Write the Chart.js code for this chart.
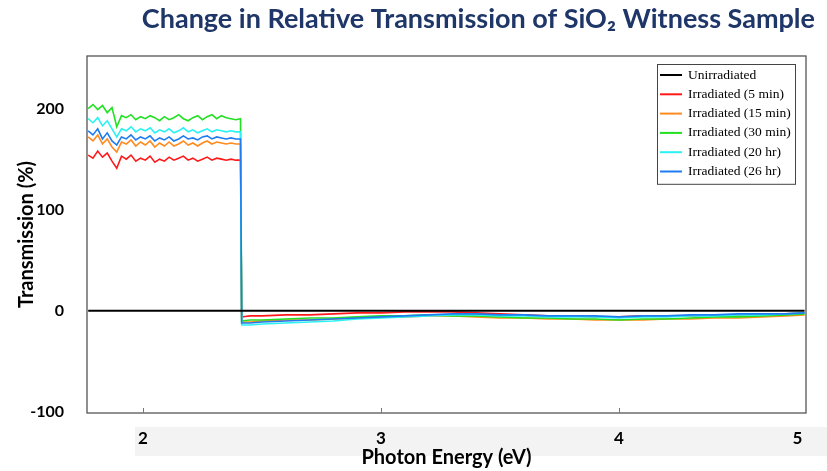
<!DOCTYPE html>
<html lang="en">
<head>
<meta charset="UTF-8">
<title>Change in Relative Transmission of SiO2 Witness Sample</title>
<script src="https://cdn.jsdelivr.net/npm/chart.js"></script>
<style>
  html, body { margin: 0; padding: 0; background: #fff; }
</style>
</head>
<body>
<canvas id="transChart" width="827" height="471"></canvas>
<script>
// photon energy (eV)
const energy = [
  1.77, 1.79, 1.81, 1.83, 1.85, 1.87, 1.89, 1.91, 1.93, 1.95, 1.97, 1.99, 2.01,
  2.03, 2.05, 2.07, 2.09, 2.11, 2.13, 2.15, 2.17, 2.19, 2.21, 2.23, 2.25, 2.27,
  2.29, 2.31, 2.33, 2.35, 2.37, 2.39, 2.41,
  2.415, 2.45, 2.5, 2.6, 2.7, 2.8, 2.9, 3.0, 3.1, 3.2, 3.3, 3.4, 3.5, 3.6, 3.7,
  3.8, 3.9, 4.0, 4.1, 4.2, 4.3, 4.4, 4.5, 4.6, 4.7, 4.78
];

const unirradiated = energy.map(() => 0);

const irr5min = [
  154, 151, 158, 152, 156, 148, 141, 153, 150, 154, 148, 151, 149, 153, 147, 150, 148,
  152, 149, 151, 153, 149, 151, 148, 150, 152, 149, 151, 150, 149, 150, 149, 149,
  -6, -5, -5, -4, -4, -3, -2, -2, -1, -1, -1, -2, -3, -4, -5, -5, -6, -6, -5, -5, -5,
  -4, -4, -3, -3, -2
];
const irr15min = [
  172, 168, 174, 165, 170, 162, 157, 167, 165, 169, 163, 167, 164, 168, 162, 166, 163,
  167, 163, 165, 168, 164, 166, 163, 166, 168, 165, 167, 166, 165, 166, 165, 165,
  -11, -11, -10, -9, -9, -8, -7, -6, -6, -5, -5, -6, -7, -7, -8, -8, -9, -9, -9, -8, -8,
  -7, -7, -6, -5, -4
];
const irr30min = [
  200, 204, 199, 203, 196, 201, 182, 193, 191, 194, 189, 192, 190, 193, 191, 188, 192,
  189, 191, 194, 190, 188, 191, 193, 189, 192, 194, 190, 193, 191, 190, 189, 190,
  -10, -9, -9, -8, -7, -7, -6, -5, -5, -4, -5, -5, -6, -7, -7, -8, -8, -9, -8, -8, -7,
  -6, -6, -5, -4, -3
];
const irr20hr = [
  190, 186, 191, 183, 188, 180, 172, 180, 178, 182, 177, 180, 178, 181, 176, 179, 177,
  180, 176, 178, 181, 177, 179, 176, 178, 180, 177, 179, 178, 177, 178, 177, 177,
  -14, -14, -13, -12, -11, -10, -8, -7, -6, -5, -4, -4, -5, -5, -6, -6, -6, -7, -6, -6, -5,
  -5, -4, -4, -3, -2
];
const irr26hr = [
  178, 174, 180, 170, 176, 168, 164, 172, 170, 174, 169, 172, 170, 173, 168, 171, 169,
  172, 168, 170, 173, 170, 171, 169, 172, 173, 170, 172, 171, 170, 171, 170, 170,
  -12, -12, -11, -10, -9, -8, -7, -6, -5, -4, -3, -3, -4, -4, -5, -5, -5, -6, -5, -5, -4,
  -4, -3, -3, -3, -2
];

const seriesLabels = [
  "Unirradiated", "Irradiated (5 min)", "Irradiated (15 min)",
  "Irradiated (30 min)", "Irradiated (20 hr)", "Irradiated (26 hr)"
];
const seriesColors = ["#000000", "#ff1a1a", "#ff8a1e", "#22e022", "#2af2f2", "#1f7cf0"];
const drawOrder = [0, 5, 4, 3, 2, 1];

const xTickValues = [2, 3, 4, 4.75];
const xTickLabels = ["2", "3", "4", "5"];
const yTickValues = [-100, 0, 100, 200];

const chartTitle = "Change in Relative Transmission of SiO\u2082 Witness Sample";

const allSeries = [unirradiated, irr5min, irr15min, irr30min, irr20hr, irr26hr];

const datasets = allSeries.map((vals, i) => ({
  label: seriesLabels[i],
  data: vals.map((v, j) => ({ x: energy[j], y: v })),
  borderColor: seriesColors[i],
  backgroundColor: seriesColors[i],
  borderWidth: i === 0 ? 2 : 1.6,
  pointRadius: 0,
  tension: 0,
  order: drawOrder[i]
}));

// title (right aligned) + grey strip behind the x tick labels
const stripPlugin = {
  id: "strip",
  beforeDraw(chart) {
    const ctx = chart.ctx;
    ctx.save();
    ctx.fillStyle = "#f3f3f3";
    ctx.fillRect(135, 427, 692, 29);
    ctx.fillStyle = "#1f3668";
    ctx.font = "bold 27px Lato";
    ctx.textAlign = "right";
    ctx.textBaseline = "middle";
    ctx.fillText(chartTitle, 815, 19);
    ctx.restore();
  }
};

// box frame and small inward ticks
const framePlugin = {
  id: "frame",
  afterDatasetsDraw(chart) {
    const { ctx, chartArea: a, scales } = chart;
    ctx.save();
    ctx.strokeStyle = "#555";
    ctx.lineWidth = 1.3;
    ctx.strokeRect(a.left, a.top, a.right - a.left, a.bottom - a.top);
    ctx.lineWidth = 1;
    ctx.strokeStyle = "#777";
    [2, 3, 4].forEach(v => {
      const x = Math.round(scales.x.getPixelForValue(v)) + 0.5;
      ctx.beginPath();
      ctx.moveTo(x, a.bottom);
      ctx.lineTo(x, a.bottom - 5);
      ctx.stroke();
    });
    ctx.restore();
  }
};

// legend box inside the plot, top right
const boxLegendPlugin = {
  id: "boxLegend",
  afterDraw(chart) {
    const { ctx, chartArea: a } = chart;
    const w = 138, rowH = 19.3;
    const x0 = a.right - 11 - w, y0 = a.top + 8;
    const h = rowH * chart.data.datasets.length + 4;
    ctx.save();
    ctx.fillStyle = "#fff";
    ctx.fillRect(x0, y0, w, h);
    ctx.strokeStyle = "#444";
    ctx.lineWidth = 1;
    ctx.strokeRect(x0 + 0.5, y0 + 0.5, w, h);
    ctx.font = "13.5px 'Liberation Serif', 'Times New Roman', serif";
    ctx.textBaseline = "middle";
    chart.data.datasets.forEach((ds, i) => {
      const yy = y0 + 11 + i * rowH;
      ctx.strokeStyle = ds.borderColor;
      ctx.lineWidth = 2;
      ctx.beginPath();
      ctx.moveTo(x0 + 3, yy);
      ctx.lineTo(x0 + 25, yy);
      ctx.stroke();
      ctx.fillStyle = "#000";
      ctx.fillText(ds.label, x0 + 31, yy);
    });
    ctx.restore();
  }
};

new Chart(document.getElementById("transChart").getContext("2d"), {
  type: "line",
  data: { datasets: datasets },
  options: {
    responsive: false,
    animation: false,
    layout: { padding: { left: 0, right: 21, top: 56, bottom: 0 } },
    plugins: {
      legend: { display: false },
      tooltip: { enabled: false },
      title: { display: false }
    },
    scales: {
      x: {
        type: "linear",
        min: 1.765,
        max: 4.786,
        grid: { display: false },
        border: { display: false },
        afterFit(scale) { scale.height = 58; },
        afterBuildTicks(scale) { scale.ticks = xTickValues.map(v => ({ value: v })); },
        ticks: {
          padding: 7,
          color: "#000",
          font: { family: "Lato", size: 17, weight: "bold" },
          maxRotation: 0,
          autoSkip: false,
          callback: (v) => xTickLabels[xTickValues.indexOf(v)]
        },
        title: {
          display: true,
          text: "Photon Energy (eV)",
          color: "#000",
          font: { family: "Lato", size: 20, weight: "bold" },
          padding: { top: 0, bottom: 1 }
        }
      },
      y: {
        min: -101,
        max: 252,
        grid: { display: false },
        border: { display: false },
        afterFit(scale) { scale.width = 87; },
        afterBuildTicks(scale) { scale.ticks = yTickValues.map(v => ({ value: v })); },
        ticks: {
          padding: 15,
          color: "#000",
          font: { family: "Lato", size: 16, weight: "bold" }
        },
        title: {
          display: true,
          text: "Transmission (%)",
          color: "#000",
          font: { family: "Lato", size: 20, weight: "bold" },
          padding: { top: 15, bottom: 0 }
        }
      }
    }
  },
  plugins: [stripPlugin, framePlugin, boxLegendPlugin]
});
</script>
</body>
</html>
